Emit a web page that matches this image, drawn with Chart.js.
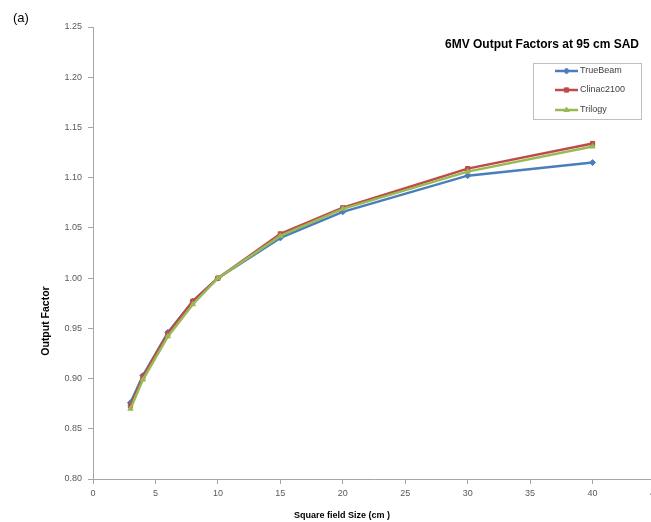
<!DOCTYPE html>
<html>
<head>
<meta charset="utf-8">
<script src="https://cdn.jsdelivr.net/npm/chart.js@4/dist/chart.umd.min.js"></script>
<style>
  html, body { margin: 0; padding: 0; background: #fff; overflow: hidden; }
  #wrap { width: 651px; height: 522px; overflow: hidden; }
</style>
</head>
<body>
<div id="wrap"><canvas id="ofChart" width="680" height="522"></canvas></div>
<script>
// field sizes (cm)
const fieldSizes = [3, 4, 6, 8, 10, 15, 20, 30, 40];

// output factors
const trueBeam   = [0.876, 0.903, 0.946, 0.977, 1.000, 1.040, 1.066, 1.102, 1.115];
const clinac2100 = [0.873, 0.902, 0.945, 0.977, 1.000, 1.044, 1.070, 1.109, 1.134];
const trilogy    = [0.870, 0.899, 0.942, 0.974, 1.000, 1.042, 1.069, 1.106, 1.131];

const xTicks = [0, 5, 10, 15, 20, 25, 30, 35, 40, 45];
const yTicks = [0.80, 0.85, 0.90, 0.95, 1.00, 1.05, 1.10, 1.15, 1.20, 1.25];

const seriesNames = ["TrueBeam", "Clinac2100", "Trilogy"];
const seriesColors = ["#4a7ebb", "#be4b48", "#98b954"];
const seriesMarkers = ["rectRot", "rect", "triangle"];

function toPoints(ys) {
    return fieldSizes.map((x, i) => ({ x: x, y: ys[i] }));
}

const axisGrey = "#a6a6a6";
const tickFont = { family: "Liberation Sans", size: 9 };

// title, panel letter, axis titles and boxed legend
const annotations = {
    id: "annotations",
    afterDraw(chart) {
        const c = chart.ctx;
        c.save();
        c.fillStyle = "#000";
        c.textBaseline = "middle";

        c.font = "13px 'Liberation Sans'";
        c.textAlign = "left";
        c.fillText("(a)", 13, 18);

        c.font = "bold 12px 'Liberation Sans'";
        c.textAlign = "right";
        c.fillText("6MV Output Factors at 95 cm SAD", 639, 45);

        c.font = "bold 9px 'Liberation Sans'";
        c.textAlign = "center";
        c.fillText("Square field Size (cm )", 342, 516);

        c.font = "bold 10.5px 'Liberation Sans'";
        c.translate(46, 321);
        c.rotate(-Math.PI / 2);
        c.fillText("Output Factor", 0, 0);
        c.restore();

        // legend box
        c.save();
        c.strokeStyle = "#bfbfbf";
        c.lineWidth = 1;
        c.strokeRect(533.5, 63.5, 108, 56);
        c.font = "9px 'Liberation Sans'";
        c.textBaseline = "middle";
        c.textAlign = "left";
        const rows = [71, 90, 110];
        seriesNames.forEach((name, i) => {
            const y = rows[i];
            c.strokeStyle = seriesColors[i];
            c.lineWidth = 2.5;
            c.beginPath();
            c.moveTo(555, y);
            c.lineTo(578, y);
            c.stroke();
            c.fillStyle = seriesColors[i];
            c.lineWidth = 1;
            Chart.helpers.drawPoint(c, {
                pointStyle: seriesMarkers[i], radius: 3, borderWidth: 1,
                rotation: 0
            }, 566.5, y);
            c.fillStyle = "#404040";
            c.fillText(name, 580, y);
        });
        c.restore();
    }
};

const ctx = document.getElementById("ofChart");

new Chart(ctx, {
    type: "line",
    data: {
        datasets: seriesNames.map((name, i) => ({
            label: name,
            data: toPoints([trueBeam, clinac2100, trilogy][i]),
            borderColor: seriesColors[i],
            backgroundColor: seriesColors[i],
            borderWidth: 2.5,
            pointStyle: seriesMarkers[i],
            pointRadius: 3,
            pointBorderWidth: 1,
            tension: 0,
            order: 3 - i
        }))
    },
    options: {
        responsive: false,
        animation: false,
        layout: { padding: { left: 0, top: 27, right: 25, bottom: 0 } },
        scales: {
            x: {
                type: "linear",
                min: 0,
                max: 45,
                afterFit(scale) { scale.height = 43; },
                afterBuildTicks(scale) { scale.ticks = xTicks.map(v => ({ value: v })); },
                ticks: {
                    font: tickFont,
                    color: "#595959",
                    padding: 4,
                    maxRotation: 0,
                    autoSkip: false
                },
                grid: { drawOnChartArea: false, tickLength: 5, color: axisGrey },
                border: { color: axisGrey }
            },
            y: {
                min: 0.8,
                max: 1.25,
                afterFit(scale) { scale.width = 93; },
                afterBuildTicks(scale) { scale.ticks = yTicks.map(v => ({ value: v })); },
                ticks: {
                    font: tickFont,
                    color: "#595959",
                    padding: 6,
                    callback: v => v.toFixed(2)
                },
                grid: { drawOnChartArea: false, tickLength: 5, color: axisGrey },
                border: { color: axisGrey }
            }
        },
        plugins: {
            legend: { display: false },
            tooltip: { enabled: false }
        }
    },
    plugins: [annotations]
});
</script>
</body>
</html>
